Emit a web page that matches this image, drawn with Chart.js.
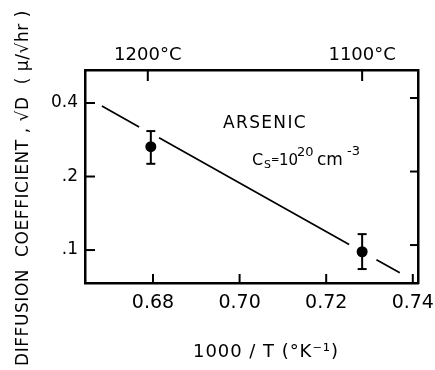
<!DOCTYPE html>
<html>
<head>
<meta charset="utf-8">
<script src="https://cdn.jsdelivr.net/npm/chart.js@4.4.1/dist/chart.umd.min.js"></script>
<style>
  html, body { margin: 0; padding: 0; background: #fff; }
  #wrap { width: 435px; height: 370px; }
</style>
</head>
<body>
<div id="wrap"><canvas id="c" width="435" height="370"></canvas></div>
<script>
// ---- data ----
const xTickValues = [0.68, 0.70, 0.72, 0.74];
const xTickLabels = ["0.68", "0.70", "0.72", "0.74"];
const topTickValues = [0.6788, 0.7283];          // 1000/T for 1200°C and 1100°C
const topTickLabels = ["1200°C", "1100°C"];
const yTickValues = [0.4, 0.2, 0.1];
const yTickLabels = ["0.4", ".2", ".1"];

const pointX = [0.6795, 0.7283];
const pointY = [0.265, 0.0984];
const errLow = [0.2255, 0.0836];
const errHigh = [0.307, 0.1162];

// fitted line, drawn in broken segments (null = gap)
const lineX = [0.6682, 0.6768, 0.6791, 0.6814, 0.7253, 0.7285, 0.7316, 0.7370];
const lineY = [0.389, 0.319, null, 0.288, 0.1054, null, 0.0913, 0.0808];

const xTitle = "1000 / T (°K⁻¹)";
const yTitle = "DIFFUSION  COEFFICIENT , √D  ( μ/√hr )";
const labelMain = "ARSENIC";

const FONT = "'DejaVu Sans', sans-serif";
const BLACK = '#000';

const inwardTicks = {
  id: 'inwardTicks',
  afterDatasetsDraw(chart) {
    const ctx = chart.ctx, ca = chart.chartArea, s = chart.scales;
    ctx.save();
    ctx.strokeStyle = BLACK;
    ctx.lineWidth = 2;
    ctx.lineCap = 'butt';
    const seg = (x1, y1, x2, y2) => { ctx.beginPath(); ctx.moveTo(x1, y1); ctx.lineTo(x2, y2); ctx.stroke(); };
    xTickValues.forEach(v => { const p = s.x.getPixelForValue(v); seg(p, ca.bottom, p, ca.bottom - 9); });
    topTickValues.forEach(v => { const p = s.xT.getPixelForValue(v); seg(p, ca.top, p, ca.top + 11); });
    yTickValues.forEach(v => {
      const p = s.y.getPixelForValue(v);
      seg(ca.left, p, ca.left + 10, p);
      const q = s.yR.getPixelForValue(v);
      seg(ca.right, q - 5, ca.right - 8, q - 5);
    });
    // error bars
    ctx.lineWidth = 2;
    pointX.forEach((xv, i) => {
      const px = s.x.getPixelForValue(xv);
      const pl = s.y.getPixelForValue(errLow[i]);
      const ph = s.y.getPixelForValue(errHigh[i]);
      seg(px, pl, px, ph);
      seg(px - 4.5, pl, px + 4.5, pl);
      seg(px - 4.5, ph, px + 4.5, ph);
    });
    ctx.restore();
  }
};

function spacedText(ctx, text, targetWidth) {
  ctx.letterSpacing = '0px';
  const w = ctx.measureText(text).width;
  const n = Array.from(text).length;
  const sp = Math.max(0, (targetWidth - w) / n);
  ctx.letterSpacing = sp + 'px';
}

const texts = {
  id: 'texts',
  afterDraw(chart) {
    const ctx = chart.ctx;
    ctx.save();
    ctx.fillStyle = BLACK;
    // x title
    ctx.font = `18px ${FONT}`;
    ctx.textBaseline = 'alphabetic';
    ctx.textAlign = 'left';
    spacedText(ctx, xTitle, 146);
    ctx.fillText(xTitle, 193, 357);
    // y title (rotated)
    ctx.save();
    ctx.translate(28, 188);
    ctx.rotate(-Math.PI / 2);
    ctx.font = `17px ${FONT}`;
    ctx.textAlign = 'center';
    ctx.textBaseline = 'alphabetic';
    spacedText(ctx, yTitle, 356);
    ctx.fillText(yTitle, 0, 0);
    ctx.restore();
    // ARSENIC
    ctx.letterSpacing = '0px';
    ctx.font = `17px ${FONT}`;
    ctx.textAlign = 'left';
    spacedText(ctx, labelMain, 84);
    ctx.fillText(labelMain, 223, 128);
    ctx.letterSpacing = '0px';
    // Cs = 10^20 cm^-3
    ctx.font = `16px ${FONT}`;
    ctx.fillText('C', 252, 165);
    ctx.font = `11px ${FONT}`;
    ctx.fillText('S', 264, 168);
    ctx.font = `10px ${FONT}`;
    ctx.fillText('=', 271, 163);
    ctx.font = `15px ${FONT}`;
    ctx.fillText('10', 279, 165);
    ctx.font = `13px ${FONT}`;
    ctx.fillText('20', 297, 156);
    ctx.font = `17px ${FONT}`;
    ctx.fillText('cm', 317, 165);
    ctx.font = `13px ${FONT}`;
    ctx.fillText('-3', 347, 155);
    ctx.restore();
  }
};

const borderOpt = { display: true, color: BLACK, width: 2.5 };
const gridOpt = { drawOnChartArea: false, drawTicks: false };
const XMIN = 0.6643, XMAX = 0.7412, YMIN = 0.0733, YMAX = 0.546;
const noPad = s => { s.paddingLeft = 0; s.paddingRight = 0; s.paddingTop = 0; s.paddingBottom = 0; };

new Chart(document.getElementById('c'), {
  type: 'scatter',
  data: {
    datasets: [
      {
        data: lineX.map((x, i) => ({ x: x, y: lineY[i] })),
        showLine: true,
        spanGaps: false,
        borderColor: BLACK,
        borderWidth: 1.7,
        pointRadius: 0,
        fill: false
      },
      {
        data: pointX.map((x, i) => ({ x: x, y: pointY[i] })),
        showLine: false,
        pointRadius: 5.5,
        pointBackgroundColor: BLACK,
        pointBorderColor: BLACK,
        pointBorderWidth: 0
      }
    ]
  },
  options: {
    responsive: false,
    animation: false,
    devicePixelRatio: 1,
    layout: { padding: 0 },
    plugins: { legend: { display: false }, tooltip: { enabled: false } },
    scales: {
      x: {
        type: 'linear', position: 'bottom', min: XMIN, max: XMAX,
        afterBuildTicks: s => { s.ticks = xTickValues.map(v => ({ value: v })); },
        afterFit: s => { s.height = 87; noPad(s); },
        ticks: {
          callback: (v, i) => xTickLabels[i],
          font: { family: FONT, size: 19 }, color: BLACK, padding: 9,
          maxRotation: 0, autoSkip: false
        },
        grid: gridOpt, border: borderOpt
      },
      xT: {
        type: 'linear', position: 'top', min: XMIN, max: XMAX,
        afterBuildTicks: s => { s.ticks = topTickValues.map(v => ({ value: v })); },
        afterFit: s => { s.height = 70; noPad(s); },
        ticks: {
          callback: (v, i) => topTickLabels[i],
          font: { family: FONT, size: 18 }, color: BLACK, padding: 4,
          maxRotation: 0, autoSkip: false
        },
        grid: gridOpt, border: borderOpt
      },
      y: {
        type: 'logarithmic', position: 'left', min: YMIN, max: YMAX,
        afterBuildTicks: s => { s.ticks = yTickValues.map(v => ({ value: v })); },
        afterFit: s => { s.width = 85; noPad(s); },
        ticks: {
          callback: (v, i) => yTickLabels[i],
          font: { family: FONT, size: 17 }, color: BLACK, padding: 7, autoSkip: false
        },
        grid: gridOpt, border: borderOpt
      },
      yR: {
        type: 'logarithmic', position: 'right', min: YMIN, max: YMAX,
        afterBuildTicks: s => { s.ticks = yTickValues.map(v => ({ value: v })); },
        afterFit: s => { s.width = 17; noPad(s); },
        ticks: { display: false },
        grid: gridOpt, border: borderOpt
      }
    }
  },
  plugins: [inwardTicks, texts]
});
</script>
</body>
</html>
